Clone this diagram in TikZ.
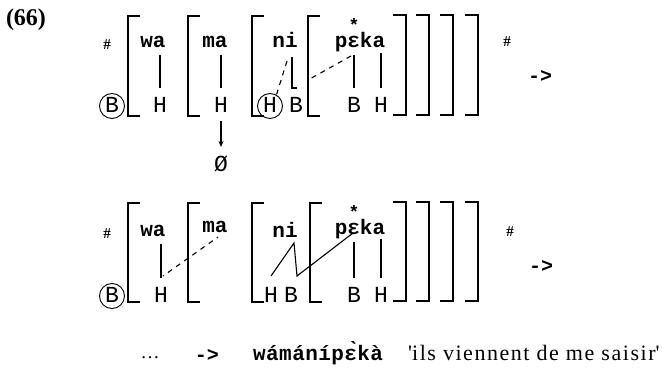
\documentclass[tikz,border=0pt]{standalone}
\usepackage{fontspec}
\setmainfont{Liberation Serif}
\newfontfamily\monof{Liberation Mono}
\usetikzlibrary{arrows.meta}
\begin{document}
\begin{tikzpicture}[x=1pt,y=-1pt,
  syl/.style={font=\monof\bfseries\fontsize{21}{21}\selectfont, inner sep=0pt, text height=9.3pt, text depth=0pt},
  tone/.style={font=\monof\fontsize{23}{23}\selectfont, inner sep=0pt, text height=13.6pt, text depth=0pt},
  tonec/.style={tone, circle, draw, line width=0.9pt, minimum size=25pt},
  hashs/.style={font=\bfseries\fontsize{15}{15}\selectfont, inner sep=0pt},
  arrs/.style={font=\monof\bfseries\fontsize{20}{20}\selectfont, inner sep=0pt},
  starn/.style={font=\monof\bfseries\fontsize{18}{18}\selectfont, inner sep=0pt, text height=6pt, text depth=0pt},
  brk/.style={line width=1.9pt},
  assoc/.style={line width=1.1pt, shorten <=7pt, shorten >=11pt},
  ln/.style={line width=1.1pt},
  dsh/.style={line width=1.1pt, dash pattern=on 5pt off 5pt}
]
\useasboundingbox (0,0) rectangle (662,379);
\node[font=\bfseries\fontsize{24}{24}\selectfont, inner sep=0pt] (num) at (26,20) {(66)};

% ---------- top row ----------
\node[hashs] (h1) at (107,45) {\#};
\node[hashs] (h2) at (507,42) {\#};
\node[arrs] (a1) at (540,77) {->};
\node[syl] (wa1) at (153,43) {wa};
\node[syl] (ma1) at (215,43) {ma};
\node[syl] (ni1) at (285,43) {ni};
\node[syl] (peka1) at (360,43) {pɛka};
\node[starn] (st1) at (354,29) {*};
\node[tonec] (B0) at (112,106) {B};
\node[tone] (H1) at (160,106) {H};
\node[tone] (H2) at (221,106) {H};
\node[tonec] (H3) at (270,106) {H};
\node[tone] (B3) at (296,106) {B};
\node[tone] (B4) at (354,106) {B};
\node[tone] (H4) at (381,106) {H};
\node[tone] (zero) at (221,165) {Ø};
% brackets
\foreach \x in {128,188,252,308} \draw[brk] (\x+12,16) -- (\x,16) -- (\x,116) -- (\x+12,116);
\foreach \x in {406,429,453,478} \draw[brk] (\x-13,15) -- (\x,15) -- (\x,115) -- (\x-13,115);
% associations
\draw[assoc] (wa1.south -| H1) -- (H1.north);
\draw[assoc] (ma1.south -| H2) -- (H2.north);
\draw[assoc] (peka1.south -| B4) -- (B4.north);
\draw[assoc, shorten <=5pt] (peka1.south -| H4) -- (H4.north);
\draw[-{Stealth[length=6pt,width=5pt]}, line width=1.1pt, shorten <=8pt, shorten >=11pt] (H2.south) -- (zero.north);
\coordinate (ni1i) at (292,57);
\coordinate (B3c) at (297,88);
\draw[ln] (ni1i) -- (ni1i |- B3c) -- (B3c);
\coordinate (ni1d) at (287,61);
\draw[dsh] (ni1d) -- (H3.60);
\coordinate (eps1) at (351,56);
\coordinate (br4a) at (308,80);
\draw[dsh] (eps1) -- (br4a);
\fill (br4a) circle (1.2pt);

% ---------- bottom row ----------
\node[hashs] (h3) at (107,234) {\#};
\node[hashs] (h4) at (510,232) {\#};
\node[arrs] (a2) at (541,267) {->};
\node[syl] (wa2) at (153,232) {wa};
\node[syl] (ma2) at (215,228) {ma};
\node[syl] (ni2) at (285,233) {ni};
\node[syl] (peka2) at (360,230) {pɛka};
\node[starn] (st2) at (354,216) {*};
\node[tonec] (B5) at (112,296) {B};
\node[tone] (H5) at (161,296) {H};
\node[tone] (H6) at (271,296) {H};
\node[tone] (B6) at (291,296) {B};
\node[tone] (B7) at (354,296) {B};
\node[tone] (H7) at (381,296) {H};
\foreach \x in {128,188,252,310} \draw[brk] (\x+12,203) -- (\x,203) -- (\x,302) -- (\x+12,302);
\foreach \x in {406,429,453,478} \draw[brk] (\x-13,202) -- (\x,202) -- (\x,301) -- (\x-13,301);
\draw[assoc] (wa2.south -| H5) -- (H5.north);
\draw[assoc] (peka2.south -| B7) -- (B7.north);
\draw[assoc, shorten <=4pt] (peka2.south -| H7) -- (H7.north);
\coordinate (H5t) at (163,276);
\coordinate (ma2d) at (218,237);
\draw[dsh, dash phase=-6pt] (H5t) -- (ma2d);
\coordinate (H6t) at (271,276);
\coordinate (ni2i) at (294,243);
\coordinate (B6t) at (297,276);
\coordinate (eps2) at (353,233);
\draw[ln] (H6t) -- (ni2i) -- (B6t) -- (eps2);

% ---------- bottom line ----------
\node[font=\fontsize{19}{19}\selectfont, inner sep=0pt] (dots) at (150,358) {\dots};
\node[arrs] (a3) at (207,356) {->};
\node[font=\monof\bfseries\fontsize{21}{21}\selectfont\addfontfeature{LetterSpace=2}, inner sep=0pt, anchor=base west] (form) at (253,361) {wámánípɛ̀kà};
\node[font=\fontsize{22}{22}\selectfont\addfontfeature{LetterSpace=7}, inner sep=0pt, anchor=base west] (gloss) at (408,361) {\textquotesingle ils viennent de me saisir\textquotesingle};
\end{tikzpicture}
\end{document}
